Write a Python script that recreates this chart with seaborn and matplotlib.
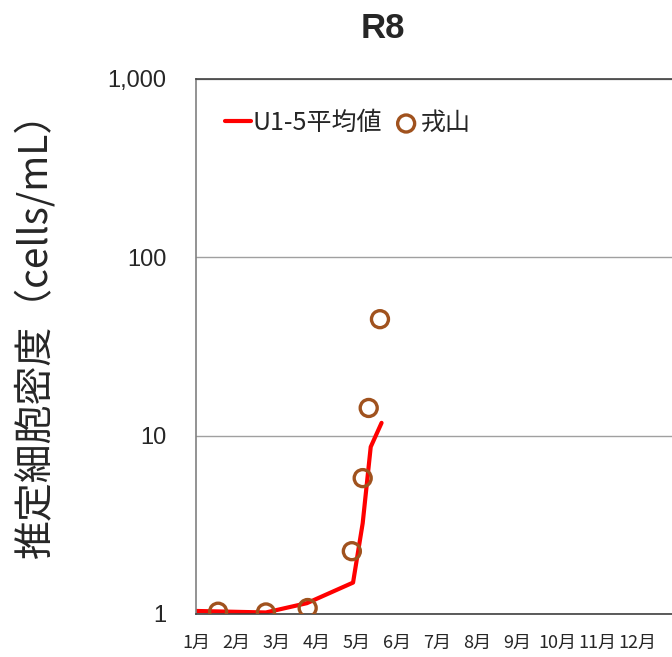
import pandas as pd
import seaborn as sns
import matplotlib.pyplot as plt
from matplotlib.ticker import FixedLocator, NullLocator

# month position (0 = 1月1日), values in cells/mL
avg_month = [0.0, 1.74, 2.76, 3.91, 4.15, 4.35, 4.62]
avg_value = [1.04, 1.02, 1.15, 1.50, 3.23, 8.65, 11.8]

site_month = [0.55, 1.74, 2.78, 3.88, 4.15, 4.30, 4.58]
site_value = [1.03, 1.02, 1.08, 2.25, 5.78, 14.3, 45.0]

month_labels = [f"{m}月" for m in range(1, 13)]
y_ticks = [1, 10, 100, 1000]
y_tick_labels = ["1", "10", "100", "1,000"]

sns.set_theme(style="white")
plt.rcParams["font.family"] = ["Noto Sans CJK JP", "DejaVu Sans"]

avg_df = pd.DataFrame({"month": avg_month, "value": avg_value})
site_df = pd.DataFrame({"month": site_month, "value": site_value})

fig = plt.figure(figsize=(6.72, 6.57), dpi=100)
ax = fig.add_axes([196 / 672, 43 / 657, 482 / 672, 535 / 657])

sns.lineplot(data=avg_df, x="month", y="value", color="#FF0000", linewidth=3,
             label="U1-5平均値", ax=ax, sort=False)
sns.scatterplot(data=site_df, x="month", y="value", s=150, facecolor="none",
                edgecolor="#A0521E", linewidth=2.4, label="戎山", ax=ax, zorder=3)

ax.set_yscale("log")
ax.set_ylim(1, 1000)
ax.set_xlim(0, 12)
ax.yaxis.set_major_locator(FixedLocator(y_ticks))
ax.yaxis.set_minor_locator(NullLocator())
ax.set_yticklabels(y_tick_labels, fontsize=17, family=["Liberation Sans", "DejaVu Sans"])
ax.set_xticks(range(12))
ax.set_xticklabels(month_labels, fontsize=13)
ax.tick_params(axis="y", direction="out", length=8, width=1, color="#808080", pad=13.5)
ax.tick_params(axis="x", direction="out", length=6, width=1, color="#808080", pad=8)
ax.yaxis.grid(True, color="#A0A0A0", linewidth=1)
ax.set_axisbelow(True)

for side in ["left", "bottom", "top", "right"]:
    ax.spines[side].set_visible(True)
    ax.spines[side].set_linewidth(1.2)
ax.spines["left"].set_color("#808080")
ax.spines["bottom"].set_color("#404040")
ax.spines["top"].set_color("#404040")

ax.set_xlabel("")
ax.set_ylabel("推定細胞密度（cells/mL）", fontsize=28, va="center")
ax.yaxis.set_label_coords((35 - 196) / 482, 0.539)

ax.legend(loc="upper left", bbox_to_anchor=(0.013, 0.984), ncol=2, frameon=False,
          fontsize=18, handlelength=1.05, handletextpad=0.05, columnspacing=0.45)

fig.text(383 / 672, 1 - 28 / 657, "R8", fontsize=25, fontweight="bold",
         family=["Liberation Sans", "DejaVu Sans"], ha="center", va="center")

fig.savefig("out.png", dpi=100)
